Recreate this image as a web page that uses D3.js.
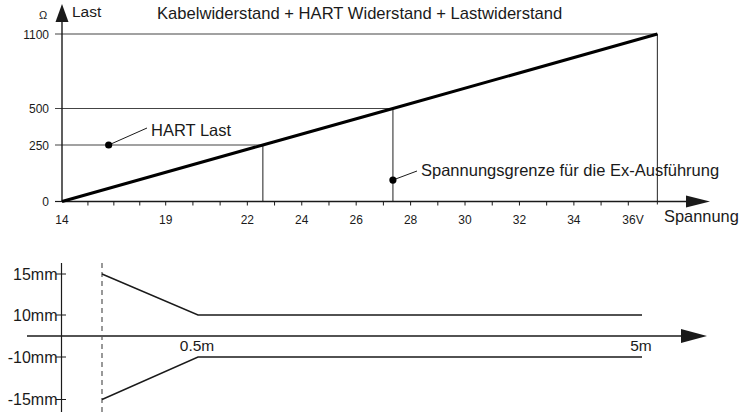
<!DOCTYPE html>
<html>
<head>
<meta charset="utf-8">
<script src="https://cdn.jsdelivr.net/npm/d3@7"></script>
<style>
html,body{margin:0;padding:0;background:#fff;}
svg{display:block;font-family:"Liberation Sans",Arial,sans-serif;}
</style>
</head>
<body>
<svg id="c" width="742" height="412"></svg>
<script>
// ---- Top chart data ----
const voltTicks = [15.25, 16.5, 17.75, 19, 20, 21, 22, 23, 24, 25, 26, 27, 28, 29, 30, 31, 32, 33, 34, 35, 36];
const voltLabels = [14, 19, 22, 24, 26, 28, 30, 32, 34, 36];
const loadTicks = [0, 250, 500, 1100];
const loadLine = [[14, 0], [22.57, 250], [27.35, 500], [37.07, 1100]];
const guideLoads = [250, 500, 1100];
const guideVolts = [22.57, 27.35, 37.07];
const hartPoint = [16.25, 250];
const exPoint = [27.35, 95];

// ---- Bottom chart data ----
const mmTicks = [15, 10, -10, -15];
const distLabels = [0.5, 5];
const upperEnv = [[0, 15], [0.5, 10], [5, 10]];
const lowerEnv = [[0, -15], [0.5, -10], [5, -10]];

const svg = d3.select("#c");
const ink = "#1a1a1a";

// ===== Top chart =====
const x = d3.scaleLinear().domain([14, 19, 36]).range([62, 165.7, 628.3]);
const y = d3.scaleLinear().domain([0, 250, 500, 1100]).range([201.5, 145, 108.5, 34]);
const gTop = svg.append("g");

// guide lines
guideLoads.forEach((L, i) => {
  gTop.append("line").attr("x1", x(14) - 7).attr("x2", x(guideVolts[i]))
    .attr("y1", y(L)).attr("y2", y(L)).attr("stroke", "#444").attr("stroke-width", 1.2);
  gTop.append("line").attr("x1", x(guideVolts[i])).attr("x2", x(guideVolts[i]))
    .attr("y1", y(L)).attr("y2", y(0) + (i === 2 ? 3 : 0)).attr("stroke", "#444").attr("stroke-width", 1.2);
});

// x axis
gTop.append("line").attr("x1", x(14)).attr("x2", 690).attr("y1", y(0)).attr("y2", y(0))
  .attr("stroke", ink).attr("stroke-width", 1.4);
gTop.append("path").attr("d", `M686,${y(0)-6}L710,${y(0)}L686,${y(0)+6}Z`).attr("fill", ink);
gTop.selectAll(".xt").data(voltTicks).join("line")
  .attr("x1", d => x(d)).attr("x2", d => x(d)).attr("y1", y(0)).attr("y2", y(0) + 4)
  .attr("stroke", ink).attr("stroke-width", 1);
gTop.selectAll(".xl").data(voltLabels).join("text")
  .attr("x", d => d === 36 ? x(d) - 6 : x(d)).attr("y", 224)
  .attr("text-anchor", d => d === 36 ? "start" : "middle")
  .attr("font-size", 12).attr("fill", ink)
  .text(d => d === 36 ? "36V" : d);
gTop.append("text").attr("x", 664).attr("y", 222).attr("font-size", 16.4).attr("fill", ink).text("Spannung");

// y axis
gTop.append("line").attr("x1", x(14)).attr("x2", x(14)).attr("y1", y(0)).attr("y2", 18)
  .attr("stroke", ink).attr("stroke-width", 1.4);
gTop.append("path").attr("d", `M${x(14)-6.5},22L${x(14)},4L${x(14)+6.5},22Z`).attr("fill", ink);
gTop.append("line").attr("x1", x(14) - 7).attr("x2", x(14)).attr("y1", y(0)).attr("y2", y(0))
  .attr("stroke", ink).attr("stroke-width", 1.2);
gTop.selectAll(".yl").data(loadTicks).join("text")
  .attr("x", 49).attr("y", d => y(d) + 4.5).attr("text-anchor", "end")
  .attr("font-size", 12).attr("fill", ink).text(d => d);
gTop.append("text").attr("x", 43).attr("y", 19).attr("text-anchor", "middle").attr("font-size", 11).attr("fill", ink).text("Ω");
gTop.append("text").attr("x", 72).attr("y", 17).attr("font-size", 15.5).attr("fill", ink).text("Last");
gTop.append("text").attr("x", 157).attr("y", 19).attr("font-size", 16.6).attr("fill", ink)
  .text("Kabelwiderstand + HART Widerstand + Lastwiderstand");

// load line
gTop.append("path").datum(loadLine)
  .attr("d", d3.line().x(d => x(d[0])).y(d => y(d[1])))
  .attr("fill", "none").attr("stroke", "#000").attr("stroke-width", 3);

// annotations
function annot(p, lx, ly, text, tx, ty) {
  const px = x(p[0]), py = y(p[1]);
  gTop.append("line").attr("x1", px).attr("y1", py).attr("x2", lx).attr("y2", ly)
    .attr("stroke", ink).attr("stroke-width", 1);
  gTop.append("circle").attr("cx", px).attr("cy", py).attr("r", 3.6).attr("fill", "#000");
  gTop.append("text").attr("x", tx).attr("y", ty).attr("font-size", 16.5).attr("fill", ink).text(text);
}
annot(hartPoint, 147, 128, "HART Last", 151, 136);
annot(exPoint, 417, 171, "Spannungsgrenze für die Ex-Ausführung", 421, 176);

// ===== Bottom chart =====
const bx = d3.scaleLinear().domain([0, 0.5, 5]).range([102, 198, 642]);
const by = d3.scaleLinear().domain([-15, -10, 0, 10, 15]).range([399.5, 357, 336, 315, 274]);
const gBot = svg.append("g");

gBot.append("line").attr("x1", 61.5).attr("x2", 61.5).attr("y1", 263).attr("y2", 412)
  .attr("stroke", ink).attr("stroke-width", 1.2);
gBot.append("line").attr("x1", 27).attr("x2", 684).attr("y1", by(0)).attr("y2", by(0))
  .attr("stroke", ink).attr("stroke-width", 1.4);
gBot.append("path").attr("d", `M681,${by(0)-7}L707,${by(0)}L681,${by(0)+7}Z`).attr("fill", ink);
gBot.append("line").attr("x1", bx(0)).attr("x2", bx(0)).attr("y1", 263).attr("y2", 412)
  .attr("stroke", "#555").attr("stroke-width", 1.2).attr("stroke-dasharray", "5,4");

gBot.selectAll(".mt").data(mmTicks).join("line")
  .attr("x1", 56).attr("x2", 66).attr("y1", d => by(d)).attr("y2", d => by(d))
  .attr("stroke", ink).attr("stroke-width", 1);
gBot.selectAll(".ml").data(mmTicks).join("text")
  .attr("x", 57.5).attr("y", d => by(d) + 5.5).attr("text-anchor", "end")
  .attr("font-size", 16).attr("fill", ink).text(d => d + "mm");

const envLine = d3.line().x(d => bx(d[0])).y(d => by(d[1]));
[upperEnv, lowerEnv].forEach(env => {
  gBot.append("path").datum(env).attr("d", envLine)
    .attr("fill", "none").attr("stroke", ink).attr("stroke-width", 1.4);
});
gBot.selectAll(".dl").data(distLabels).join("text")
  .attr("x", d => bx(d) - 1).attr("y", 351).attr("text-anchor", "middle")
  .attr("font-size", 15.5).attr("fill", ink).text(d => d + "m");
</script>
</body>
</html>
